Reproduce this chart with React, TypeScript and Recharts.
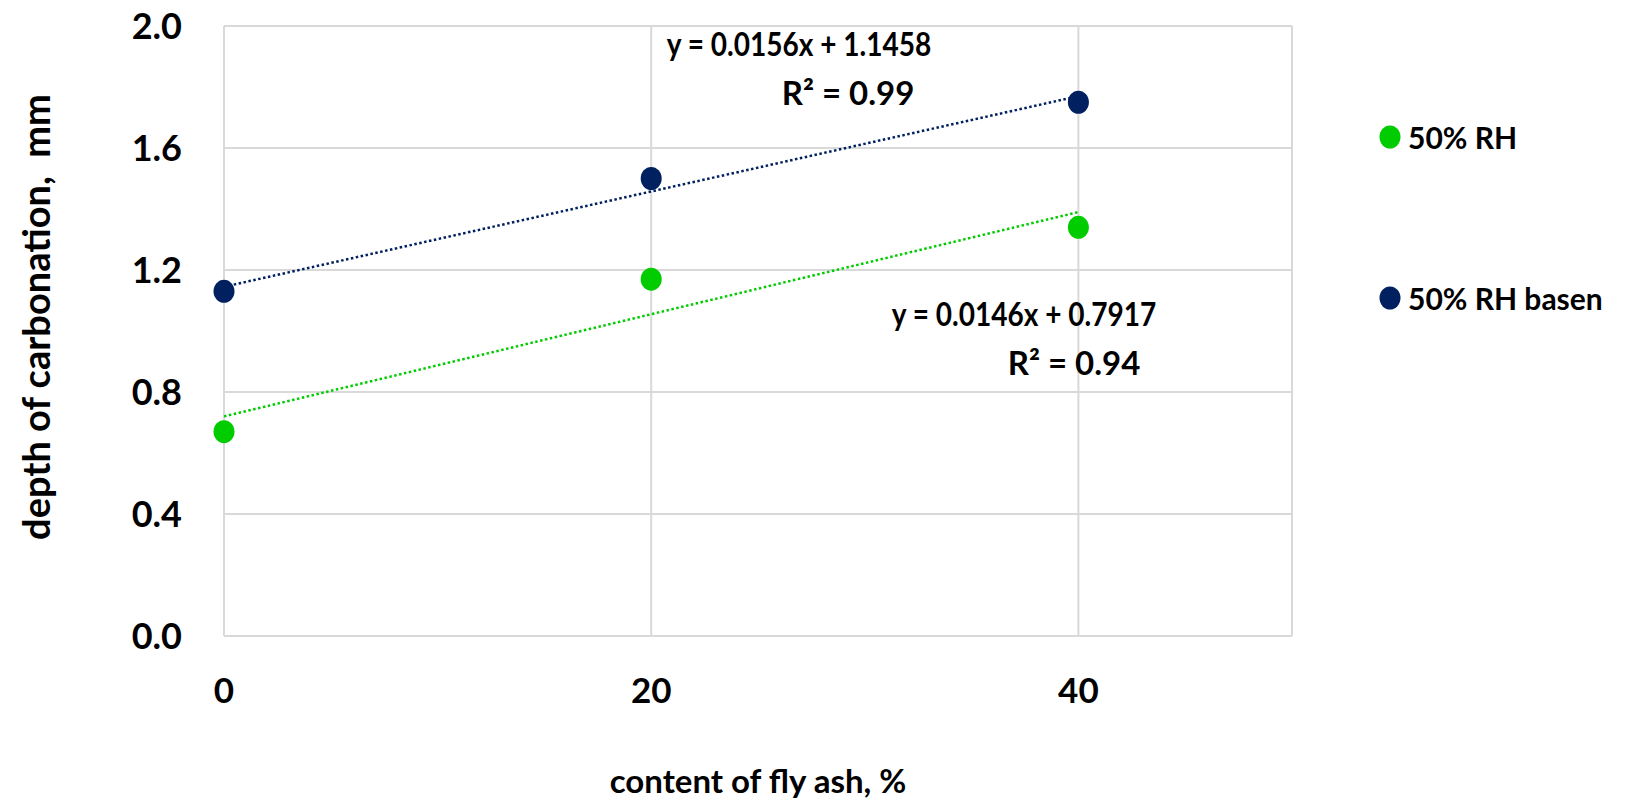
import React from "react";
import {
  ComposedChart,
  Scatter,
  Line,
  XAxis,
  YAxis,
  CartesianGrid,
  Legend,
} from "recharts";

const font = "Lato, 'Open Sans', sans-serif";

// measured points
const flyAsh = [0, 20, 40];
const depthRH = [0.67, 1.17, 1.34];
const depthBasen = [1.13, 1.5, 1.75];

// trendline ends as drawn in the figure
const trendX = [0, 40];
const trendRH = [0.72, 1.39];
const trendBasen = [1.145, 1.77];

const xTicks = [0, 20, 40];
const yTicks = [0, 0.4, 0.8, 1.2, 1.6, 2.0];

const names = ["50% RH", "50% RH basen"];
const colors = ["#00cc00", "#002060"];

const rhData = flyAsh.map((x, i) => ({ x, y: depthRH[i] }));
const basenData = flyAsh.map((x, i) => ({ x, y: depthBasen[i] }));
const rhTrend = trendX.map((x, i) => ({ x, y: trendRH[i] }));
const basenTrend = trendX.map((x, i) => ({ x, y: trendBasen[i] }));

const dot = (color: string) => (p: any) => (
  <ellipse cx={p.cx} cy={p.cy} rx={10.5} ry={11.5} fill={color} />
);

const r2Style: React.CSSProperties = {
  position: "absolute",
  fontFamily: font,
  fontWeight: 700,
  fontSize: 33,
  color: "#000",
  whiteSpace: "nowrap",
  transform: "translate(-50%, -50%)",
  lineHeight: 1,
};
// equation lines are narrower in the original (condensed face)
const eqStyle: React.CSSProperties = {
  ...r2Style,
  transform: "translate(-50%, -50%) scaleX(0.85)",
};

function LegendBox(props: any) {
  const items = (props.payload || []).filter((p: any) => p.type !== "none");
  return (
    <div>
      {items.map((it: any, i: number) => (
        <div
          key={i}
          style={{
            display: "flex",
            alignItems: "center",
            height: 40,
            marginBottom: 121,
            fontFamily: font,
            fontWeight: 700,
            fontSize: 30,
            color: "#000",
          }}
        >
          <svg width={26} height={26} style={{ marginRight: 4 }}>
            <ellipse cx={12} cy={13} rx={10.5} ry={11.5} fill={it.color} />
          </svg>
          {it.value}
        </div>
      ))}
    </div>
  );
}

function YTitle(props: any) {
  const vb = props.viewBox || { x: 0, y: 0, height: 0 };
  const cx = 35;
  const cy = vb.y + vb.height / 2 - 14;
  return (
    <text
      x={cx}
      y={cy}
      transform={`rotate(-90, ${cx}, ${cy})`}
      textAnchor="middle"
      dominantBaseline="central"
      fontFamily={font}
      fontWeight={700}
      fontSize={38}
      fill="#000"
      style={{ whiteSpace: "pre" }}
    >
      depth of carbonation,  mm
    </text>
  );
}

export default function App() {
  return (
    <div style={{ position: "absolute", left: 0, top: 0, width: 1647, height: 807, background: "#fff" }}>
      <ComposedChart
        width={1647}
        height={807}
        margin={{ top: 26, right: 355, bottom: 0, left: 0 }}
      >
        <CartesianGrid stroke="#d9d9d9" strokeWidth={2} />
        <XAxis
          dataKey="x"
          type="number"
          domain={[0, 50]}
          ticks={xTicks}
          height={171}
          axisLine={false}
          tickLine={false}
          tickSize={0}
          tickMargin={42}
          tick={{ fontSize: 35, fontWeight: 700, fill: "#000", fontFamily: font }}
          label={{
            value: "content of fly ash, %",
            position: "insideBottom",
            offset: 14,
            style: { fontSize: 33, fontWeight: 700, fill: "#000", fontFamily: font },
          }}
        />
        <YAxis
          dataKey="y"
          type="number"
          domain={[0, 2]}
          ticks={yTicks}
          width={224}
          axisLine={false}
          tickLine={false}
          tickSize={0}
          tickMargin={42}
          tickFormatter={(v: number) => v.toFixed(1)}
          tick={{ fontSize: 36, fontWeight: 700, fill: "#000", fontFamily: font }}
          label={{ content: <YTitle /> }}
        />
        <Line
          data={rhTrend}
          dataKey="y"
          stroke={colors[0]}
          strokeWidth={2.5}
          strokeDasharray="2.5 2.5"
          dot={false}
          activeDot={false}
          legendType="none"
          isAnimationActive={false}
        />
        <Line
          data={basenTrend}
          dataKey="y"
          stroke={colors[1]}
          strokeWidth={2.5}
          strokeDasharray="2.5 2.5"
          dot={false}
          activeDot={false}
          legendType="none"
          isAnimationActive={false}
        />
        <Scatter name={names[0]} data={rhData} dataKey="y" fill={colors[0]} shape={dot(colors[0])} isAnimationActive={false} />
        <Scatter name={names[1]} data={basenData} dataKey="y" fill={colors[1]} shape={dot(colors[1])} isAnimationActive={false} />
        <Legend
          layout="vertical"
          align="center"
          verticalAlign="middle"
          content={<LegendBox />}
          wrapperStyle={{ left: 1378, top: 117, width: 260 }}
        />
      </ComposedChart>
      <div style={{ ...eqStyle, left: 799, top: 43 }}>y = 0.0156x + 1.1458</div>
      <div style={{ ...r2Style, left: 848, top: 92 }}>R² = 0.99</div>
      <div style={{ ...eqStyle, left: 1024, top: 313 }}>y = 0.0146x + 0.7917</div>
      <div style={{ ...r2Style, left: 1074, top: 362 }}>R² = 0.94</div>
    </div>
  );
}
